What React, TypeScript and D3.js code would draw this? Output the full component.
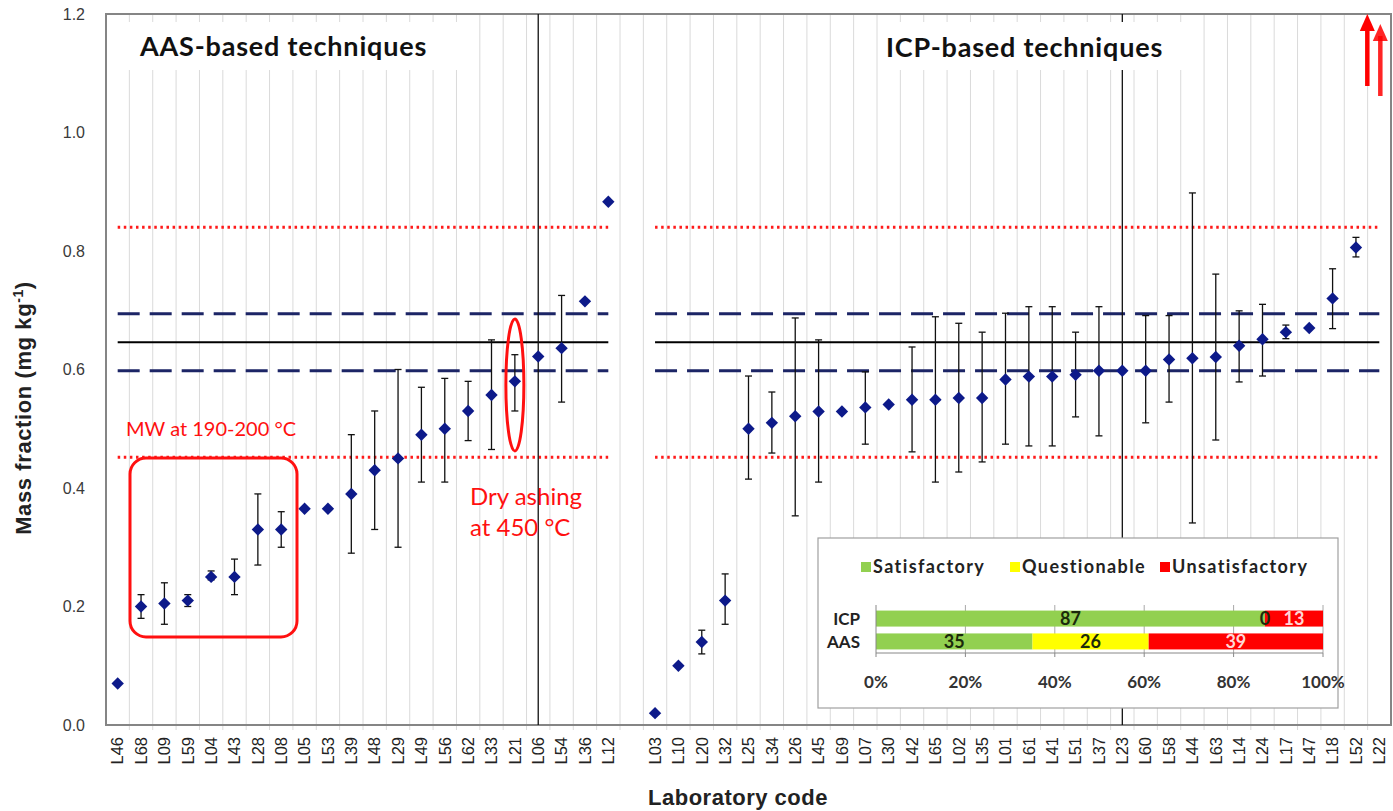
import React from "react";
import * as d3 from "d3";

// ---------- data ----------
const aasCodes = ["L46","L68","L09","L59","L04","L43","L28","L08","L05","L53","L39","L48","L29","L49","L56","L62","L33","L21","L06","L54","L36","L12"];
const aasValues = [0.07,0.20,0.205,0.21,0.25,0.25,0.33,0.33,0.365,0.365,0.39,0.43,0.45,0.49,0.50,0.53,0.557,0.58,0.622,0.636,0.715,0.883];
const aasLow:  (number|null)[] = [null,0.18,0.17,0.20,0.245,0.22,0.27,0.30,null,null,0.29,0.33,0.30,0.41,0.41,0.48,0.465,0.53,0.0,0.545,null,null];
const aasHigh: (number|null)[] = [null,0.22,0.24,0.22,0.26,0.28,0.39,0.36,null,null,0.49,0.53,0.60,0.57,0.585,0.58,0.65,0.625,1.2,0.725,null,null];

const icpCodes = ["L03","L10","L20","L32","L25","L34","L26","L45","L69","L07","L30","L42","L65","L02","L35","L01","L61","L41","L51","L37","L23","L60","L58","L44","L63","L14","L24","L17","L47","L18","L52","L22"];
const icpValues: (number|null)[] = [0.02,0.10,0.14,0.21,0.50,0.51,0.521,0.529,0.529,0.536,0.541,0.549,0.549,0.552,0.552,0.583,0.588,0.588,0.591,0.598,0.598,0.598,0.617,0.619,0.621,0.64,0.651,0.663,0.67,0.72,0.806,null];
const icpLow:  (number|null)[] = [null,null,0.12,0.17,0.415,0.459,0.353,0.41,null,0.474,null,0.461,0.41,0.427,0.444,0.474,0.471,0.471,0.52,0.488,0.0,0.51,0.545,0.341,0.481,0.579,0.589,0.652,null,0.669,0.79,null];
const icpHigh: (number|null)[] = [null,null,0.16,0.255,0.589,0.562,0.687,0.65,null,0.596,null,0.638,0.689,0.678,0.663,0.695,0.706,0.706,0.663,0.706,1.2,0.691,0.691,0.898,0.761,0.699,0.71,0.675,null,0.77,0.823,null];

const yTicks = [0, 0.2, 0.4, 0.6, 0.8, 1.0, 1.2];

const assignedValue = 0.646;
const dashedLimits = [0.598, 0.694];
const dottedLimits = [0.452, 0.840];

const insetCategories = ["ICP", "AAS"];
const insetSatisfactory = [87, 35];
const insetQuestionable = [0, 26];
const insetUnsatisfactory = [13, 39];
const insetTicks = [0, 20, 40, 60, 80, 100];
const legendLabels = ["Satisfactory", "Questionable", "Unsatisfactory"];
const legendColors = ["#92d050", "#ffff00", "#ff0000"];

// ---------- layout ----------
const W = 1393, H = 811;
const allCodes = [...aasCodes, "", ...icpCodes];
const x = d3.scaleBand<number>().domain(d3.range(allCodes.length)).range([106, 1391]).padding(0);
const y = d3.scaleLinear().domain([0, 1.2]).range([725, 14]);
const cx = (i: number) => (x(i) as number) + x.bandwidth() / 2;

const calibri = "Lato, 'Open Sans', sans-serif";
const arial = "'Liberation Sans', Arial, sans-serif";
const navy = "#0d1a8a";

function diamond(px: number, py: number, key: string) {
  const s = 6.2;
  return <path key={key} d={`M${px},${py - s}L${px + s},${py}L${px},${py + s}L${px - s},${py}Z`} fill={navy} />;
}

function ErrBar({ px, lo, hi }: { px: number; lo: number; hi: number }) {
  const y1 = y(Math.min(hi, 1.2)), y0 = y(Math.max(lo, 0));
  const full = lo <= 0 && hi >= 1.2;
  return (
    <g stroke="#111" strokeWidth={1.3}>
      <line x1={px} x2={px} y1={y0} y2={y1} />
      {!full && <line x1={px - 3.5} x2={px + 3.5} y1={y0} y2={y0} />}
      {!full && <line x1={px - 3.5} x2={px + 3.5} y1={y1} y2={y1} />}
    </g>
  );
}

export default function App() {
  const aasStart = 0, aasEnd = aasCodes.length - 1;
  const icpStart = aasCodes.length + 1, icpEnd = allCodes.length - 1;
  const segments = [[cx(aasStart), cx(aasEnd)], [cx(icpStart), cx(icpEnd)]];

  // inset scales
  const ix = d3.scaleLinear().domain([0, 100]).range([876, 1323]);
  const iy = d3.scaleBand<string>().domain(insetCategories).range([606, 654]).paddingInner(0.3).paddingOuter(0.2);

  const l22x = cx(icpEnd);

  return (
    <div style={{ position: "absolute", left: 0, top: 0 }}>
      <svg width={W} height={H} style={{ display: "block", background: "#fff" }}>
        {/* gridlines */}
        {d3.range(1, allCodes.length).map((i) => (
          <line key={"g" + i} x1={x(i)} x2={x(i)} y1={y(1.2)} y2={y(0) + 5} stroke="#dadada" strokeWidth={1} />
        ))}

        {/* title boxes */}
        <rect x={124} y={22} width={336} height={48} fill="#fff" />

        {/* plot border */}
        <rect x={106} y={y(1.2)} width={1391 - 106} height={y(0) - y(1.2)} fill="none" stroke="#858585" strokeWidth={2} />

        {/* reference lines */}
        {segments.map(([a, b], k) => (
          <g key={"ref" + k}>
            {dottedLimits.map((v, j) => (
              <line key={"d" + j} x1={a} x2={b} y1={y(v)} y2={y(v)} stroke="#ff1a1a" strokeWidth={3} strokeDasharray="2.5,3.6" />
            ))}
            {dashedLimits.map((v, j) => (
              <line key={"s" + j} x1={a} x2={b} y1={y(v)} y2={y(v)} stroke="#1c2566" strokeWidth={3} strokeDasharray="22,10" />
            ))}
            <line x1={a} x2={b} y1={y(assignedValue)} y2={y(assignedValue)} stroke="#000" strokeWidth={2} />
          </g>
        ))}

        {/* error bars AAS */}
        {aasCodes.map((c, i) =>
          aasLow[i] != null && aasHigh[i] != null ? (
            <ErrBar key={"ea" + c} px={cx(i)} lo={aasLow[i] as number} hi={aasHigh[i] as number} />
          ) : null
        )}
        {/* error bars ICP */}
        {icpCodes.map((c, i) =>
          icpLow[i] != null && icpHigh[i] != null ? (
            <ErrBar key={"ei" + c} px={cx(icpStart + i)} lo={icpLow[i] as number} hi={icpHigh[i] as number} />
          ) : null
        )}

        {/* ICP title box (covers gridlines and the L23 bar) */}
        <rect x={878} y={22} width={312} height={48} fill="#fff" />

        {/* points */}
        {aasCodes.map((c, i) => diamond(cx(i), y(aasValues[i]), "pa" + c))}
        {icpCodes.map((c, i) => (icpValues[i] != null ? diamond(cx(icpStart + i), y(icpValues[i] as number), "pi" + c) : null))}

        {/* titles */}
        <text x={140} y={56} fontFamily={calibri} fontWeight={700} fontSize={27} letterSpacing={0.8} fill="#111">AAS-based techniques</text>
        <text x={886} y={57} fontFamily={calibri} fontWeight={700} fontSize={27} letterSpacing={0.8} fill="#111">ICP-based techniques</text>

        {/* y axis ticks */}
        {yTicks.map((t) => (
          <text key={"yt" + t} x={85} y={y(t)} dy="0.35em" textAnchor="end" fontFamily={arial} fontSize={16} fill="#3a3a3a">
            {t.toFixed(1)}
          </text>
        ))}

        {/* x axis tick labels */}
        {allCodes.map((c, i) =>
          c ? (
            <text key={"xt" + i} transform={`translate(${cx(i)},737) rotate(-90)`} dy="0.35em" textAnchor="end" fontFamily={arial} fontSize={16.5} fill="#222">
              {c}
            </text>
          ) : null
        )}

        {/* axis titles */}
        <text x={738} y={805} textAnchor="middle" fontFamily={arial} fontWeight={700} fontSize={22} letterSpacing={0.5} fill="#222">Laboratory code</text>
        <text transform="translate(31,408) rotate(-90)" textAnchor="middle" fontFamily={arial} fontWeight={700} fontSize={22} letterSpacing={0.6} fill="#222">
          Mass fraction (mg kg<tspan dy={-8} fontSize={14}>-1</tspan><tspan dy={8}>)</tspan>
        </text>

        {/* annotations */}
        <text x={126} y={436} fontFamily={calibri} fontSize={20} fill="#ff1010">MW at 190-200 °C</text>
        <rect x={130} y={458} width={167} height={179} rx={16} fill="none" stroke="#ff1010" strokeWidth={3} />
        <ellipse cx={cx(aasCodes.indexOf("L21"))} cy={385} rx={9} ry={66} fill="none" stroke="#ff1010" strokeWidth={3} />
        <text x={470} y={505} fontFamily={calibri} fontSize={24} fill="#ff1010">Dry ashing</text>
        <text x={470} y={536} fontFamily={calibri} fontSize={24} fill="#ff1010">at 450 °C</text>

        {/* arrows for off-scale value */}
        <g fill="#ff0000" stroke="#ff0000">
          <line x1={l22x - 12} x2={l22x - 12} y1={86} y2={26} strokeWidth={4.5} />
          <path d={`M${l22x - 12},14L${l22x - 19.5},31L${l22x - 4.5},31Z`} stroke="none" />
          <line x1={l22x + 1} x2={l22x + 1} y1={96} y2={36} strokeWidth={4.5} opacity={0.85} />
          <path d={`M${l22x + 1},24L${l22x - 6.5},41L${l22x + 8.5},41Z`} stroke="none" opacity={0.85} />
        </g>

        {/* inset */}
        <rect x={818} y={538} width={520} height={170} fill="#fff" stroke="#a0a0a0" strokeWidth={1.2} />
        {legendLabels.map((l, k) => {
          const lx = [861, 1010, 1160][k];
          return (
            <g key={"lg" + k}>
              <rect x={lx} y={562} width={10} height={10} fill={legendColors[k]} />
              <text x={lx + 12} y={573} fontFamily={calibri} fontWeight={700} fontSize={18} letterSpacing={1.4} fill="#222">{l}</text>
            </g>
          );
        })}
        {insetTicks.slice(1).map((t) => (
          <line key={"ig" + t} x1={ix(t)} x2={ix(t)} y1={605} y2={653} stroke="#a8a8a8" strokeWidth={1} />
        ))}
        {insetCategories.map((c, k) => {
          const b0 = iy(c) as number;
          const bh = iy.bandwidth();
          const s = insetSatisfactory[k], q = insetQuestionable[k], u = insetUnsatisfactory[k];
          return (
            <g key={"ib" + c}>
              <rect x={ix(0)} y={b0} width={ix(s) - ix(0)} height={bh} fill={legendColors[0]} />
              <rect x={ix(s)} y={b0} width={ix(s + q) - ix(s)} height={bh} fill={legendColors[1]} />
              <rect x={ix(s + q)} y={b0} width={ix(s + q + u) - ix(s + q)} height={bh} fill={legendColors[2]} />
              <text x={ix(s / 2)} y={b0 + bh / 2} dy="0.36em" textAnchor="middle" fontFamily={calibri} fontWeight={700} fontSize={18} fill="#1b2a0b">{s}</text>
              <text x={ix(s + q / 2)} y={b0 + bh / 2} dy="0.36em" textAnchor="middle" fontFamily={calibri} fontWeight={700} fontSize={18} fill="#1b2a0b">{q}</text>
              <text x={ix(s + q + u / 2)} y={b0 + bh / 2} dy="0.36em" textAnchor="middle" fontFamily={calibri} fontWeight={700} fontSize={18} fill="#ffd6d6">{u}</text>
              <text x={860} y={b0 + bh / 2} dy="0.36em" textAnchor="end" fontFamily={calibri} fontWeight={700} fontSize={17} fill="#222">{c}</text>
            </g>
          );
        })}
        <line x1={ix(0)} x2={ix(0)} y1={605} y2={653} stroke="#888" />
        <line x1={ix(0)} x2={ix(100)} y1={653} y2={653} stroke="#888" />
        {insetTicks.map((t) => (
          <g key={"it" + t}>
            <line x1={ix(t)} x2={ix(t)} y1={653} y2={657} stroke="#888" />
            <text x={ix(t)} y={682} dy="0.35em" textAnchor="middle" fontFamily={calibri} fontWeight={700} fontSize={17} fill="#333">{t}%</text>
          </g>
        ))}
      </svg>
    </div>
  );
}
